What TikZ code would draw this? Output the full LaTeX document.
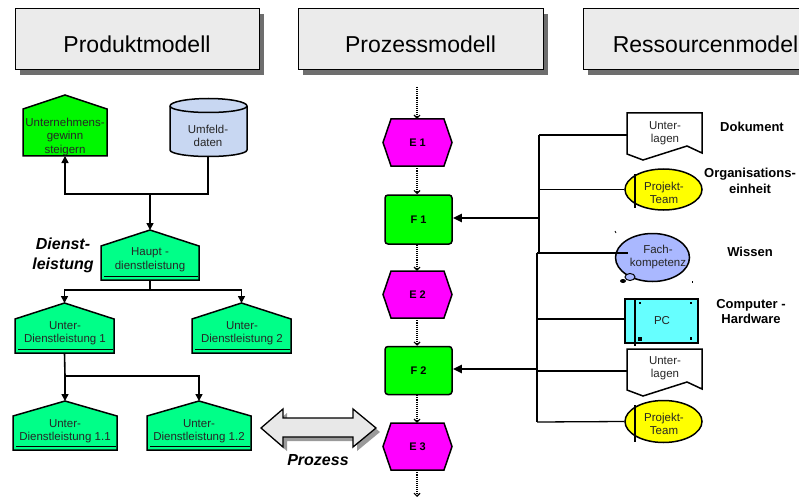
\documentclass[tikz,border=0pt]{standalone}
\usepackage{fontspec}
\setmainfont{Liberation Sans}
\usetikzlibrary{arrows.meta,shapes.geometric,shadows}

\definecolor{hdrfill}{HTML}{EBEBEB}
\definecolor{hdrshadow}{HTML}{6E6E6E}
\definecolor{goalgreen}{HTML}{00F800}
\definecolor{fngreen}{HTML}{00FF00}
\definecolor{svcgreen}{HTML}{00FF88}
\definecolor{dbblue}{HTML}{C8D7F2}
\definecolor{knowblue}{HTML}{AAB8FF}
\definecolor{pccyan}{HTML}{66FFFF}
\definecolor{evtmag}{HTML}{FF00FF}
\definecolor{orgyellow}{HTML}{FFFF00}
\definecolor{arrowgrey}{HTML}{E8E8E8}
\definecolor{arrowshadow}{HTML}{9A9A9A}

\tikzset{
  header/.style={draw=black, line width=1pt, fill=hdrfill,
    minimum height=61pt, text height=27pt, text depth=0pt,
    font=\fontsize{23}{26}\selectfont,
    drop shadow={shadow xshift=5pt, shadow yshift=-5pt, fill=hdrshadow, opacity=1}},
  smalltxt/.style={font=\fontsize{11.5}{13.5}\selectfont, align=center, text=black!85, inner sep=0},
  bolddesc/.style={font=\fontsize{13}{15.5}\bfseries\selectfont, align=center, inner sep=0},
  boldit/.style={font=\fontsize{16}{20}\bfseries\itshape\selectfont, align=center, inner sep=0},
  outline/.style={draw=black, line width=1.5pt, line join=miter},
  treeline/.style={line width=1.6pt},
  tree/.style={treeline, -{Triangle[length=7pt,width=7pt]}},
  flow/.style={densely dotted, line width=1.1pt, -{Straight Barb[length=3pt,width=6pt]}},
  bus/.style={line width=1.3pt},
  feed/.style={line width=2.3pt, -{Triangle[length=9pt,width=8pt]}},
  evtlbl/.style={font=\fontsize{11}{12}\bfseries\selectfont, inner sep=0},
}

% house-shaped function box: name, x left, x right, y apex, y shoulder, y bottom, fill
\newcommand{\housebox}[7]{%
  \draw[outline, fill=#7] (#2,#6) -- (#2,#5) -- ({(#2+#3)/2},#4) -- (#3,#5) -- (#3,#6) -- cycle;
  \coordinate (#1-top) at ({(#2+#3)/2},#4);
  \coordinate (#1-bot) at ({(#2+#3)/2},#6);
}
% service box: house shape with a second base line
\newcommand{\svcbox}[6]{%
  \housebox{#1}{#2}{#3}{#4}{#5}{#6}{svcgreen}
  \draw[line width=0.8pt] ({#2+3},{#6-3.5}) -- ({#3-1},{#6-3.5});
}
% event hexagon: name, x centre, y centre, label
\newcommand{\evtbox}[4]{%
  \draw[outline, fill=evtmag] ({#2-34.5},#3) -- ({#2-26.5},{#3-23.5}) -- ({#2+26.5},{#3-23.5})
    -- ({#2+34.5},#3) -- ({#2+26.5},{#3+23.5}) -- ({#2-26.5},{#3+23.5}) -- cycle;
  \node[evtlbl, minimum width=69pt, minimum height=47pt] (#1) at (#2,#3) {#4};
}
% document symbol: x left, y top
\newcommand{\docsymbol}[2]{%
  \draw[outline, fill=white] (#1,#2) -- ({#1+75},#2) -- ({#1+75},{#2+40}) -- ({#1+60},{#2+33})
    -- ({#1+16},{#2+47}) -- (#1,{#2+41}) -- cycle;
}

\begin{document}
\begin{tikzpicture}[x=1pt,y=-1pt]
\useasboundingbox (0,0) rectangle (799,497);
\fill[white] (0,0) rectangle (799,497);
\clip (0,0) rectangle (799,497);

% ---- column headers
\node[header, minimum width=244pt] (hprod) at (137,39.5) {Produktmodell};
\node[header, minimum width=245pt] (hproc) at (420.5,39.5) {Prozessmodell};
\node[header, minimum width=245pt] (hres) at (705.5,39.5) {Ressourcenmodel};

% ---- product model
\housebox{goal}{23}{107}{95}{109}{156}{goalgreen}
\node[smalltxt] (goaltxt) at (65,137) {Unternehmens-\\gewinn\\steigern};

\draw[outline, fill=dbblue] (170,106) -- (170,150)
  arc[start angle=180, end angle=0, x radius=38.5, y radius=6.5] -- (247,106)
  arc[start angle=0, end angle=-180, x radius=38.5, y radius=7.5] -- cycle;
\draw[outline] (170,106) arc[start angle=180, end angle=0, x radius=38.5, y radius=6.5];
\coordinate (umf-bot) at (208,156);
\node[smalltxt] (umf) at (208,136) {Umfeld-\\daten};

\svcbox{haupt}{101}{199}{230}{246}{280}
\node[smalltxt] (hauptxt) at (150,259.5) {Haupt -\\dienstleistung};
\node[boldit] (dl) at (63,255) {Dienst-\\leistung};

\svcbox{ud1}{15}{114}{303}{319}{353}
\node[smalltxt] (ud1txt) at (65,333) {Unter-\\Dienstleistung 1};
\svcbox{ud2}{192}{291}{303}{319}{353}
\node[smalltxt] (ud2txt) at (242,333) {Unter-\\Dienstleistung 2};
\svcbox{ud11}{13}{117}{401}{416}{450}
\node[smalltxt] (ud11txt) at (65,431) {Unter-\\Dienstleistung 1.1};
\svcbox{ud12}{147}{251}{401}{416}{450}
\node[smalltxt] (ud12txt) at (199,431) {Unter-\\Dienstleistung 1.2};

\coordinate (j1) at (150,194);
\coordinate (j2) at (150,290);
\coordinate (j3) at (65,376);
\draw[treeline] (umf-bot) |- (j1);
\draw[tree] (j1) -| (goal-bot);
\draw[tree] (j1) -- (haupt-top);
\draw[treeline] (haupt-bot) -- (j2);
\draw[tree] (j2) -| (ud1-top);
\draw[tree] (j2) -| (ud2-top);
\draw[treeline] (ud1-bot) -- (j3);
\draw[tree] (j3) -- (ud11-top);
\draw[tree] (j3) -| (ud12-top);

% ---- double arrow between product and process
\fill[arrowshadow] (265,432) -- (287,413) -- (287,422) -- (357,422) -- (357,413) -- (380,432)
  -- (357,451) -- (357,441) -- (287,441) -- (287,451) -- cycle;
\draw[line width=1.3pt, fill=arrowgrey] (261,428) -- (283,409) -- (283,418) -- (353,418) -- (353,409)
  -- (376,428) -- (353,447) -- (353,437) -- (283,437) -- (283,447) -- cycle;
\node[boldit] (proz) at (318,460) {Prozess};

% ---- process model
\coordinate (ptop) at (417,87);
\coordinate (pbot) at (417,497);
\evtbox{e1}{417.5}{142.5}{E 1}
\node[draw=black, line width=1.5pt, fill=fngreen, rounded corners=3pt, evtlbl,
      minimum width=67pt, minimum height=49pt] (f1) at (418.5,219.5) {F 1};
\evtbox{e2}{417.5}{294.5}{E 2}
\node[draw=black, line width=1.5pt, fill=fngreen, rounded corners=3pt, evtlbl,
      minimum width=67pt, minimum height=48pt] (f2) at (418.5,370.5) {F 2};
\evtbox{e3}{417.5}{446.5}{E 3}

\draw[flow] (ptop) -- (ptop |- e1.north);
\draw[flow] (e1.south -| ptop) -- (ptop |- f1.north);
\draw[flow] (f1.south -| ptop) -- (ptop |- e2.north);
\draw[flow] (e2.south -| ptop) -- (ptop |- f2.north);
\draw[flow] (f2.south -| ptop) -- (ptop |- e3.north);
\draw[flow] (e3.south -| ptop) -- (pbot);

% ---- resource model
\docsymbol{627}{113}
\node[smalltxt] (doc1) at (665,133) {Unter-\\lagen};
\node[ellipse, draw=black, line width=1.5pt, fill=orgyellow, minimum width=77pt,
      minimum height=41pt, inner sep=0] (team1) at (663.5,189.5) {};
\draw[line width=1.2pt] (635,174) -- (635,208);
\node[smalltxt] (team1txt) at (664,193) {Projekt-\\Team};

\node[ellipse, draw=black, line width=1.5pt, fill=knowblue, minimum width=74pt,
      minimum height=48pt, inner sep=0] (know) at (652.5,257.5) {};
\draw[line width=1pt, fill=knowblue] (630,277) ellipse[x radius=5, y radius=3.5];
\fill[black] (623,281) ellipse[x radius=3, y radius=2];
\draw[line width=0.8pt] (615,231) -- (616,233);
\draw[line width=0.8pt] (692,281) -- (692,283);
\node[smalltxt] (knowtxt) at (658,257) {Fach-\\kompetenz};

\draw[outline, fill=pccyan] (625,299) rectangle (698,343);
\draw[line width=1.2pt] (635,299) -- (635,346);
\fill (639,302) rectangle (641,304);
\fill (690,302) rectangle (692,304);
\fill (638,337) rectangle (641.5,340.5);
\fill (690,337) rectangle (692,340);
\node[smalltxt] (pc) at (662,321) {PC};

\docsymbol{627}{349}
\node[smalltxt] (doc2) at (665,368) {Unter-\\lagen};
\node[ellipse, draw=black, line width=1.5pt, fill=orgyellow, minimum width=77pt,
      minimum height=42pt, inner sep=0] (team2) at (663.5,421.5) {};
\draw[line width=1.2pt] (635,405) -- (635,442);
\node[smalltxt] (team2txt) at (664,424) {Projekt-\\Team};

\node[bolddesc] (ldok) at (752,127) {Dokument};
\node[bolddesc] (lorg) at (750,181) {Organisations-\\einheit};
\node[bolddesc] (lwis) at (750,252) {Wissen};
\node[bolddesc] (lhw) at (751,311.5) {Computer -\\Hardware};

% resource bus lines
\coordinate (busA) at (539,135);
\coordinate (busAend) at (539,252);
\coordinate (busAfeed) at (539,218);
\coordinate (busB) at (537,253);
\coordinate (busBend) at (537,422);
\coordinate (busBfeed) at (537,369);
\draw[bus] (busA) -- (busAend);
\draw[bus] (busA) -- (627,135);
\draw[bus] (busA |- team1.west) -- (team1.west);
\draw[bus] (busB) -- (busBend);
\draw[bus] (busB) -- (628,253);
\draw[bus] (busB |- 0,319) -- (625,319);
\draw[bus] (busB |- 0,371) -- (627,371);
\draw[bus] (busBend) -- (team2.west);
\draw[feed] (busAfeed) -- (busAfeed -| f1.east);
\draw[feed] (busBfeed) -- (busBfeed -| f2.east);
\end{tikzpicture}
\end{document}
